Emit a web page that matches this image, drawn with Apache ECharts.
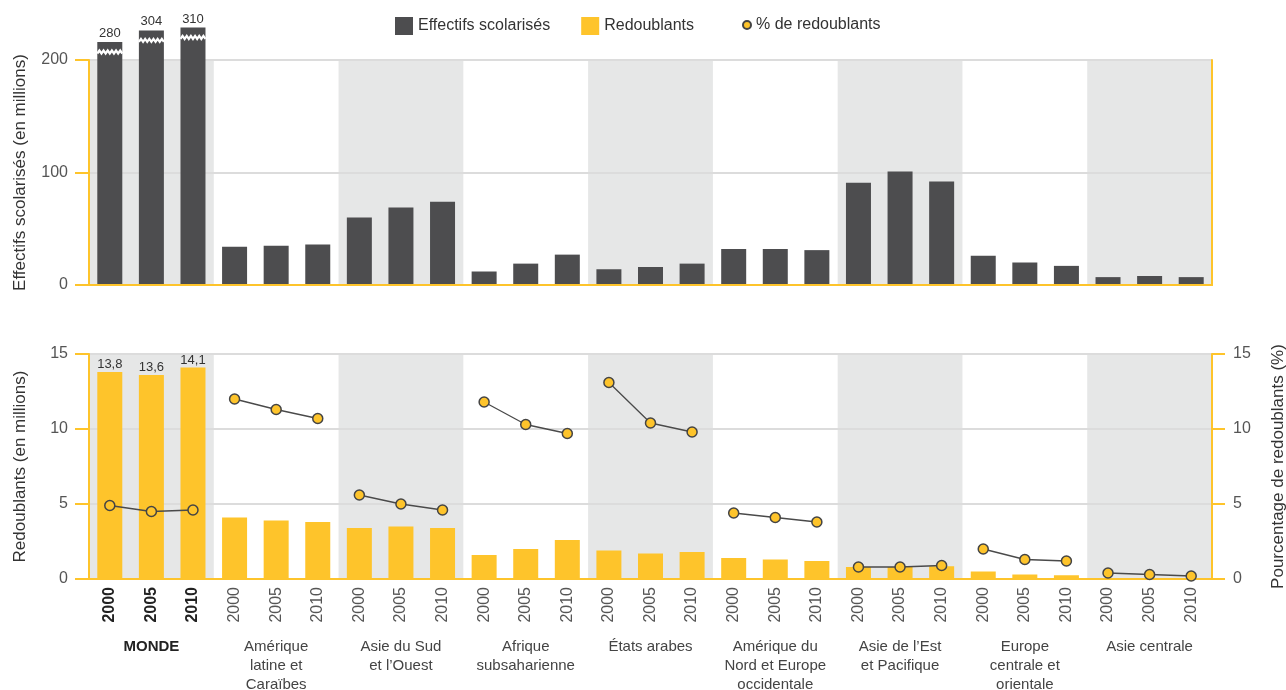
<!DOCTYPE html>
<html><head><meta charset="utf-8">
<script src="https://cdn.jsdelivr.net/npm/echarts@6/dist/echarts.min.js"></script>
<style>html,body{margin:0;padding:0;background:#fff}#c{width:1286px;height:690px}</style>
</head><body><div id="c"></div>
<script>
const regions = ['MONDE', 'Amérique\nlatine et\nCaraïbes', 'Asie du Sud\net l’Ouest', 'Afrique\nsubsaharienne', 'États arabes', 'Amérique du\nNord et Europe\noccidentale', 'Asie de l’Est\net Pacifique', 'Europe\ncentrale et\norientale', 'Asie centrale'];
const years = ['2000', '2005', '2010'];
const effectifs = [280, 304, 310, 34, 35, 36, 60, 69, 74, 12, 19, 27, 14, 16, 19, 32, 32, 31, 91, 101, 92, 26, 20, 17, 7, 8, 7];
const redoublants = [13.8, 13.6, 14.1, 4.1, 3.9, 3.8, 3.4, 3.5, 3.4, 1.6, 2.0, 2.6, 1.9, 1.7, 1.8, 1.4, 1.3, 1.2, 0.8, 0.8, 0.85, 0.5, 0.3, 0.25, 0.05, 0.05, 0.05];
const pctRedoublants = [4.9, 4.5, 4.6, 12.0, 11.3, 10.7, 5.6, 5.0, 4.6, 11.8, 10.3, 9.7, 13.1, 10.4, 9.8, 4.4, 4.1, 3.8, 0.8, 0.8, 0.9, 2.0, 1.3, 1.2, 0.4, 0.3, 0.2];
const leftTicksTop = [0, 100, 200];
const ticksBottom = [0, 5, 10, 15];

const FONT = "'Liberation Sans', Arial, sans-serif";
const YELLOW = '#fec42b';
const DARK = '#4d4d4f';
const BAND = '#e6e7e7';
const GRIDC = '#dcdcdc';
const BAR_W = 25;
const TOP_MAX = leftTicksTop[leftTicksTop.length - 1];
const BOT_MAX = ticksBottom[ticksBottom.length - 1];
// broken axis: values above the top of the axis are drawn compressed
function brk(v) { return v <= TOP_MAX ? v : 216 + (v - 280) * 0.43; }

const yearCats = [];
regions.forEach((r, i) => years.forEach(y => yearCats.push(i + '_' + y)));
const nY = years.length;
const bandTop = regions.map((r, i) => i % 2 === 0 ? TOP_MAX : '-');
const bandBot = regions.map((r, i) => i % 2 === 0 ? BOT_MAX : '-');

const topData = effectifs.map((v, i) => {
  if (v > TOP_MAX) return { value: brk(v), label: { show: true, formatter: String(v) } };
  return v;
});
const botData = redoublants.map((v, i) => {
  if (Math.floor(i / nY) === 0) return { value: v, label: { show: true, formatter: String(v).replace('.', ',') } };
  return v;
});
const breakData = [];
effectifs.forEach((v, i) => { if (v > TOP_MAX) breakData.push([i, brk(v)]); });

const lineSeries = regions.map((r, ri) => ({
  type: 'line', name: '% de redoublants', xAxisIndex: 2, yAxisIndex: 3, z: 5,
  data: pctRedoublants.map((v, i) => Math.floor(i / nY) === ri ? v : '-'),
  symbol: 'circle', symbolSize: 10,
  lineStyle: { color: '#4a4a4a', width: 1.3 },
  itemStyle: { color: YELLOW, borderColor: '#444', borderWidth: 1.5 },
  emphasis: { disabled: true }, animation: false
}));

const axisLineY = { show: true, lineStyle: { color: YELLOW, width: 2 } };
const tickY = { show: true, length: 14, lineStyle: { color: YELLOW, width: 2 } };
const labelY = { color: '#555', fontSize: 16, fontFamily: FONT, margin: 21 };
const split = { show: true, lineStyle: { color: GRIDC, width: 2 } };

const yearFormatter = v => { const p = v.split('_'); return p[0] === '0' ? '{b|' + p[1] + '}' : p[1]; };

const option = {
  animation: false,
  textStyle: { fontFamily: FONT },
  legend: [
    { data: ['Effectifs scolarisés', 'Redoublants'], left: 395, top: 17, padding: 0, itemWidth: 18, itemHeight: 18, itemGap: 31, icon: 'rect',
      textStyle: { color: '#333', fontSize: 16, fontFamily: FONT }, selectedMode: false },
    { data: ['% de redoublants'], left: 742, top: 17, padding: 0, itemWidth: 8, itemHeight: 8, icon: 'circle',
      textStyle: { color: '#333', fontSize: 16, fontFamily: FONT }, selectedMode: false }
  ],
  grid: [
    { left: 89, right: 74, top: 60, height: 225, outerBoundsMode: 'none', containLabel: false },
    { left: 89, right: 74, top: 354, height: 225, outerBoundsMode: 'none', containLabel: false }
  ],
  xAxis: [
    { type: 'category', gridIndex: 0, data: yearCats, position: 'bottom', z: 4,
      axisLine: { show: true, lineStyle: { color: YELLOW, width: 2 } }, axisTick: { show: false }, axisLabel: { show: false } },
    { type: 'category', gridIndex: 0, data: regions, position: 'top', z: 4,
      axisLine: { show: true, lineStyle: { color: YELLOW, width: 2 } }, axisTick: { show: false }, axisLabel: { show: false } },
    { type: 'category', gridIndex: 1, data: yearCats, position: 'bottom', z: 4,
      axisLine: { show: true, lineStyle: { color: YELLOW, width: 2 } }, axisTick: { show: false },
      axisLabel: { rotate: 90, margin: 8, fontSize: 16, color: '#555', fontFamily: FONT, interval: 0, formatter: yearFormatter,
        rich: { b: { fontWeight: 'bold', color: '#222', fontSize: 16, fontFamily: FONT } } } },
    { type: 'category', gridIndex: 1, data: regions, position: 'top', z: 4,
      axisLine: { show: true, lineStyle: { color: YELLOW, width: 2 } }, axisTick: { show: false }, axisLabel: { show: false } },
    { type: 'category', gridIndex: 1, data: regions, position: 'bottom', z: 4,
      axisLine: { show: false }, axisTick: { show: false },
      axisLabel: { interval: 0, margin: 58, fontSize: 15, lineHeight: 19, color: '#444', fontFamily: FONT,
        formatter: (v, i) => i === 0 ? '{b|' + v + '}' : v,
        rich: { b: { fontWeight: 'bold', color: '#222', fontSize: 15, lineHeight: 19, fontFamily: FONT } } } }
  ],
  yAxis: [
    { type: 'value', gridIndex: 0, min: 0, max: TOP_MAX, interval: 100, position: 'left', z: 2,
      axisLine: axisLineY, axisTick: tickY, axisLabel: labelY, splitLine: split,
      name: 'Effectifs scolarisés (en millions)', nameLocation: 'middle', nameRotate: 90, nameGap: 60,
      nameTextStyle: { fontSize: 17, color: '#333', fontFamily: FONT } },
    { type: 'value', gridIndex: 0, min: 0, max: TOP_MAX, interval: 100, position: 'right', z: 2,
      axisLine: axisLineY, axisTick: { show: false }, axisLabel: { show: false }, splitLine: { show: false } },
    { type: 'value', gridIndex: 1, min: 0, max: BOT_MAX, interval: 5, position: 'left', z: 2,
      axisLine: axisLineY, axisTick: tickY, axisLabel: labelY, splitLine: split,
      name: 'Redoublants (en millions)', nameLocation: 'middle', nameRotate: 90, nameGap: 60,
      nameTextStyle: { fontSize: 17, color: '#333', fontFamily: FONT } },
    { type: 'value', gridIndex: 1, min: 0, max: BOT_MAX, interval: 5, position: 'right', z: 2,
      axisLine: axisLineY, axisTick: { show: true, length: 13, lineStyle: { color: YELLOW, width: 2 } }, axisLabel: labelY, splitLine: { show: false },
      name: 'Pourcentage de redoublants (%)', nameLocation: 'middle', nameRotate: 90, nameGap: 58,
      nameTextStyle: { fontSize: 17, color: '#333', fontFamily: FONT } }
  ],
  series: [
    { type: 'bar', name: 'bandTop', xAxisIndex: 1, yAxisIndex: 0, data: bandTop, barWidth: '100%', z: 1, silent: true,
      itemStyle: { color: BAND } },
    { type: 'bar', name: 'bandBot', xAxisIndex: 3, yAxisIndex: 2, data: bandBot, barWidth: '100%', z: 1, silent: true,
      itemStyle: { color: BAND } },
    { type: 'bar', name: 'Effectifs scolarisés', xAxisIndex: 0, yAxisIndex: 0, data: topData, barWidth: BAR_W, z: 3, clip: false,
      itemStyle: { color: DARK },
      label: { show: false, position: 'top', distance: 2, fontSize: 13, color: '#333', fontFamily: FONT } },
    { type: 'custom', name: 'break', xAxisIndex: 0, yAxisIndex: 0, z: 6, silent: true, data: breakData,
      renderItem: (params, api) => {
        const c = api.coord([api.value(0), api.value(1)]);
        const hw = BAR_W / 2, n = 12, pts = [];
        for (let k = 0; k <= n; k++) pts.push([c[0] - hw + k * (2 * hw / n), c[1] + 10 + (k % 2 ? -1.5 : 1.5)]);
        return { type: 'polyline', shape: { points: pts }, style: { stroke: '#fff', lineWidth: 2.2, fill: null } };
      } },
    { type: 'bar', name: 'Redoublants', xAxisIndex: 2, yAxisIndex: 2, data: botData, barWidth: BAR_W, z: 3,
      itemStyle: { color: YELLOW },
      label: { show: false, position: 'top', distance: 1, fontSize: 13, color: '#333', fontFamily: FONT } }
  ].concat(lineSeries)
};

const chart = echarts.init(document.getElementById('c'), null, { renderer: 'canvas' });
chart.setOption(option);
</script></body></html>
